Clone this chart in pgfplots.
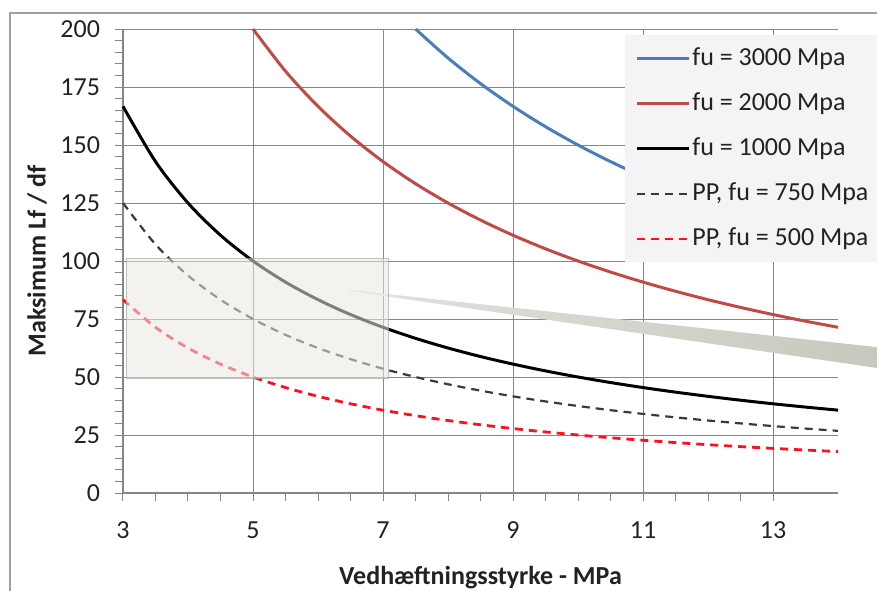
\documentclass[border=0pt]{standalone}
\usepackage{fontspec}
\setmainfont{Carlito}
\usepackage{pgfplots}
\pgfplotsset{compat=1.18}

\definecolor{gridgrey}{HTML}{868686}
\definecolor{fublue}{HTML}{4A7EBB}
\definecolor{fured}{HTML}{BE4B48}
\definecolor{ppgrey}{HTML}{3A3A3A}
\definecolor{ppred}{HTML}{FF1020}
\definecolor{legbg}{HTML}{F4F4F4}
\definecolor{boxfill}{HTML}{EAE8E2}
\definecolor{txt}{HTML}{222222}
\definecolor{bandL}{HTML}{E2E2DE}
\definecolor{bandR}{HTML}{C8C8BE}

\begin{document}
\begin{tikzpicture}
\begin{axis}[
    scale only axis,
    width=357.5pt, height=232pt,
    xmin=3, xmax=14, ymin=0, ymax=200,
    xtick={3,5,7,9,11,13},
    ytick={0,25,50,75,100,125,150,175,200},
    minor x tick num=3,
    minor y tick num=4,
    axis x line=bottom, axis y line=left,
    axis line style={-, draw=gridgrey, line width=0.6pt},
    tick align=outside,
    major tick length=4pt, minor tick length=4pt,
    tick style={draw=gridgrey, line width=0.5pt},
    grid=major,
    major grid style={draw=gridgrey, line width=0.5pt},
    /pgf/number format/assume math mode=true,
    ticklabel style={font=\fontsize{13}{15}\selectfont, text=txt},
    xticklabel style={yshift=-7pt},
    yticklabel style={xshift=-4pt},
    xlabel={\textbf{Vedhæftningsstyrke - MPa}},
    ylabel={\textbf{Maksimum Lf / df}},
    label style={font=\fontsize{13}{15}\selectfont, text=txt},
    xlabel style={at={(axis description cs:0.5,-0.183)}, anchor=center},
    ylabel style={at={(axis description cs:-0.1203,0.5)}, anchor=center},
    clip=false,
    legend cell align=left,
    legend image code/.code={\draw[#1] (0pt,0pt) -- (26pt,0pt);},
    legend style={at={(rel axis cs:0.702,0.987)}, anchor=north west,
        fill=legbg, draw=none, font=\fontsize{13}{15}\selectfont, text=txt,
        row sep=7pt, inner xsep=5pt, inner ysep=4pt,
        nodes={text height=9.5pt, text depth=2.5pt, inner ysep=1.75pt, inner xsep=1pt}},
]
\addplot[fublue, line width=1.5pt, smooth] coordinates {
    (7.5,200) (8,187.5) (8.5,176.47) (9,166.67) (9.5,157.89) (10,150)
    (10.5,142.86) (11,136.36) (11.5,130.43) (12,125) (12.5,120) (13,115.38)
    (13.5,111.11) (14,107.14)
};
\addlegendentry{fu = 3000 Mpa}
\addplot[fured, line width=1.5pt, smooth] coordinates {
    (5,200) (5.5,181.82) (6,166.67) (6.5,153.85) (7,142.86) (7.5,133.33)
    (8,125) (8.5,117.65) (9,111.11) (9.5,105.26) (10,100) (10.5,95.24)
    (11,90.91) (11.5,86.96) (12,83.33) (12.5,80) (13,76.92) (13.5,74.07)
    (14,71.43)
};
\addlegendentry{fu = 2000 Mpa}
\addplot[black, line width=1.5pt, smooth] coordinates {
    (3,166.67) (3.5,142.86) (4,125) (4.5,111.11) (5,100) (5.5,90.91)
    (6,83.33) (6.5,76.92) (7,71.43) (7.5,66.67) (8,62.5) (8.5,58.82)
    (9,55.56) (9.5,52.63) (10,50) (10.5,47.62) (11,45.45) (11.5,43.48)
    (12,41.67) (12.5,40) (13,38.46) (13.5,37.04) (14,35.71)
};
\addlegendentry{fu = 1000 Mpa}
\addplot[ppgrey, line width=1.1pt, dash pattern=on 4pt off 3pt, smooth] coordinates {
    (3,125) (3.5,107.14) (4,93.75) (4.5,83.33) (5,75) (5.5,68.18)
    (6,62.5) (6.5,57.69) (7,53.57) (7.5,50) (8,46.88) (8.5,44.12)
    (9,41.67) (9.5,39.47) (10,37.5) (10.5,35.71) (11,34.09) (11.5,32.61)
    (12,31.25) (12.5,30) (13,28.85) (13.5,27.78) (14,26.79)
};
\addlegendentry{PP, fu = 750 Mpa}
\addplot[ppred, line width=1.4pt, dash pattern=on 4pt off 3pt, smooth] coordinates {
    (3,83.33) (3.5,71.43) (4,62.5) (4.5,55.56) (5,50) (5.5,45.45)
    (6,41.67) (6.5,38.46) (7,35.71) (7.5,33.33) (8,31.25) (8.5,29.41)
    (9,27.78) (9.5,26.32) (10,25) (10.5,23.81) (11,22.73) (11.5,21.74)
    (12,20.83) (12.5,20) (13,19.23) (13.5,18.52) (14,17.86)
};
\addlegendentry{PP, fu = 500 Mpa}

% callout band and highlighted region
\shade[left color=bandL, right color=bandR]
    (axis cs:6.49,87.5) -- (axis cs:14.6,62.9) -- (axis cs:14.6,53.9) -- (axis cs:6.49,87.1) -- cycle;
\filldraw[fill=boxfill, fill opacity=0.55, draw=gray!70, draw opacity=0.7, line width=0.5pt]
    (axis cs:3.05,49.5) rectangle (axis cs:7.08,101);
\end{axis}

% outer chart frame
\draw[gray!75, line width=0.7pt] (-56.5pt,-60pt) -- (-56.5pt,240pt) -- (390pt,240pt);
\pgfresetboundingbox
\path[use as bounding box] (-61.5pt,-48.5pt) rectangle (377pt,246.5pt);
\end{tikzpicture}
\end{document}
